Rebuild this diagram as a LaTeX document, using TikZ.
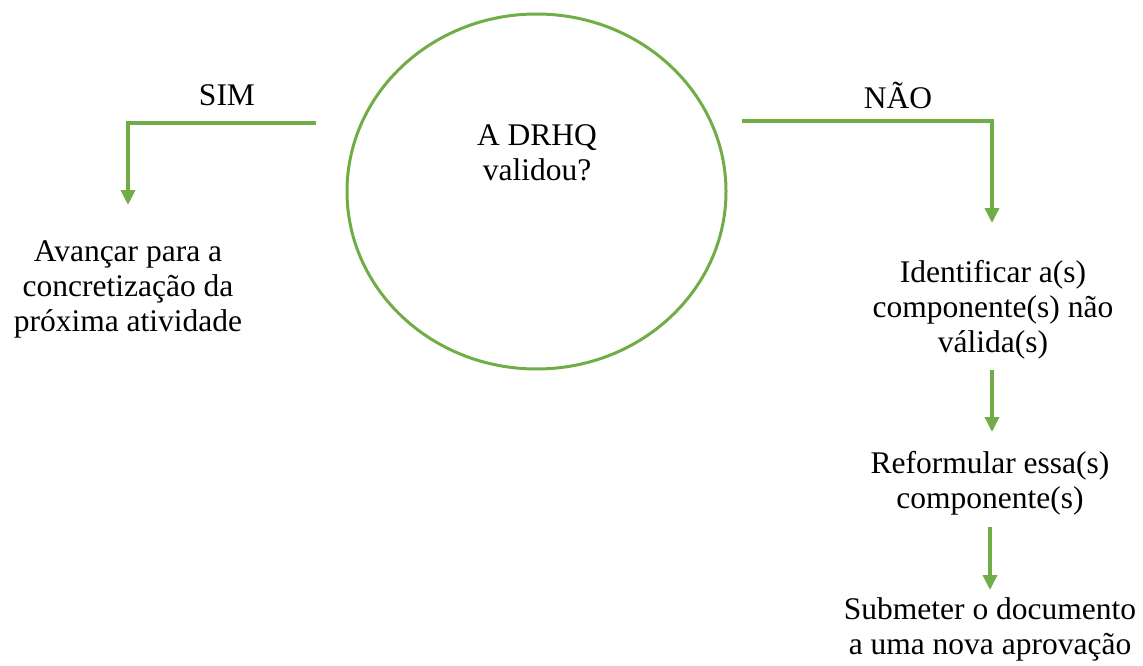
\documentclass[tikz,border=0pt]{standalone}
\usepackage{fontspec}
\setmainfont{Liberation Serif}
\usetikzlibrary{arrows.meta,shapes.geometric}
\definecolor{ogreen}{HTML}{70AD47}
\tikzset{
  txt/.style={align=center,font=\fontsize{31.5}{35}\selectfont,inner sep=0pt},
  conn/.style={draw=ogreen,line width=3.5pt,-{Triangle[width=14pt,length=15pt]}},
}
\begin{document}
\begin{tikzpicture}[x=1pt,y=-1pt]
\useasboundingbox (0,0) rectangle (1143,666);
\node[ellipse,draw=ogreen,line width=3pt,minimum width=379pt,minimum height=355pt,inner sep=0pt] (q) at (536.5,191.5) {};
\node[txt] (qt) at (537,153) {A DRHQ\\validou?};
\node[txt] (sim) at (227,95) {SIM};
\node[txt] (nao) at (898,95) {NÃO};
\node[txt] (av) at (128,289) {Avançar para a\\concretização da\\próxima atividade};
\node[txt] (id) at (993,310) {Identificar a(s)\\componente(s) não\\válida(s)};
\node[txt] (ref) at (990,483) {Reformular essa(s)\\componente(s)};
\node[txt] (sub) at (990,629) {Submeter o documento\\a uma nova aprovação};
\coordinate (s0) at (316,123);
\coordinate (s1) at (128,205);
\coordinate (n0) at (742,121);
\coordinate (n1) at (992,223);
\draw[conn] (s0) -| (s1);
\draw[conn] (n0) -| (n1);
\draw[conn] (992,370) coordinate (a0) -- (992,432) coordinate (a1);
\draw[conn] (990,527) coordinate (b0) -- (990,590) coordinate (b1);
\end{tikzpicture}
\end{document}
